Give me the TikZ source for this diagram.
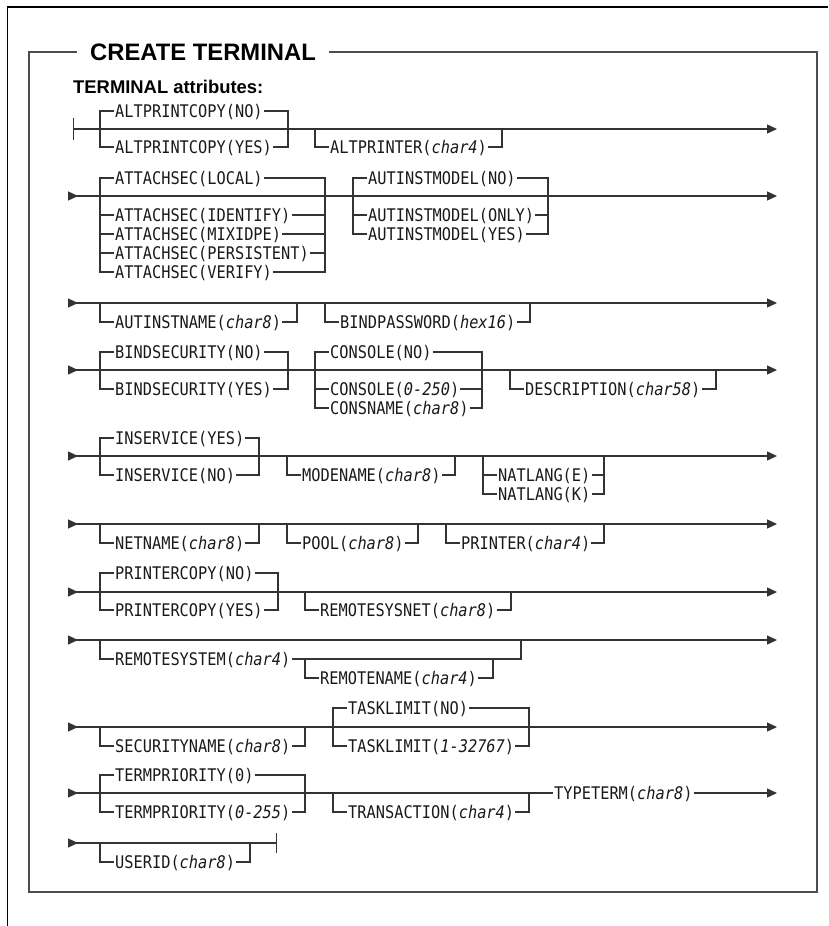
\documentclass[tikz,border=0pt]{standalone}
\usepackage{fontspec}
\setmainfont{Liberation Sans}
\newfontfamily\mono{DejaVu Sans Mono}[ItalicFont={DejaVu Sans Mono Oblique}, FakeStretch=0.88]
\usetikzlibrary{arrows.meta}
\newcommand\via[3]{\draw[ln] (#1) |- (#2.west) (#2.east) -| (#3);}
\begin{document}
\begin{tikzpicture}[x=1pt,y=-1pt,
 ln/.style={line width=1.3pt, draw=black!80},
 lbl/.style={anchor=west, inner xsep=1pt, inner ysep=0pt, text height=12.5pt, text depth=0pt, font=\mono\fontsize{17.4}{18}\selectfont, text=black!90},
 endarr/.style={-{Triangle[length=10pt,width=9pt]}},
 cont/.style={{Triangle[reversed,length=10pt,width=9pt]}-{Triangle[length=10pt,width=9pt]}},
 boxframe/.style={line width=2.5pt, draw=black!70},
]
\useasboundingbox (0,0) rectangle (828,926);
% outer frame
\coordinate (o1) at (7.5,926); \coordinate (o2) at (7.5,7); \coordinate (o3) at (828,7);
\draw[line width=1.5pt] (o1) -- (o2) -- (o3);
% title box
\node[anchor=west, inner xsep=13pt, inner ysep=0pt, text height=17pt, text depth=0pt, font=\bfseries\fontsize{23.8}{24}\selectfont] (title) at (77,52) {CREATE TERMINAL};
\coordinate (b1) at (29,52); \coordinate (b2) at (29,892); \coordinate (b3) at (817,892); \coordinate (b4) at (817,52);
\draw[boxframe] (title.west) -- (b1) -- (b2) -- (b3) -- (b4) -- (title.east);
\node[anchor=west, inner sep=0pt, text height=13.2pt, text depth=0pt, font=\bfseries\fontsize{18.4}{19}\selectfont] (sub) at (73,87) {TERMINAL attributes:};

% ---------- Row 1 (129)
\coordinate (r1s) at (73,129); \coordinate (r1e) at (777,129);
\draw[ln, {Bar[width=22pt]}-{Triangle[length=10pt,width=9pt]}] (r1s) -- (r1e);
\coordinate (r1a) at (100,129); \coordinate (r1b) at (288,129);
\node[lbl] (apcno) at (114,111) {ALTPRINTCOPY(NO)};
\node[lbl] (apcyes) at (114,147) {ALTPRINTCOPY(YES)};
\via{r1a}{apcno}{r1b} \via{r1a}{apcyes}{r1b}
\coordinate (r1c) at (315,129); \coordinate (r1d) at (502,129);
\node[lbl] (altpr) at (329,147) {ALTPRINTER(\textit{char4})};
\via{r1c}{altpr}{r1d}

% ---------- Row 2 (196)
\coordinate (r2s) at (68,196); \coordinate (r2e) at (777,196);
\draw[ln, cont] (r2s) -- (r2e);
\coordinate (r2a) at (100,196); \coordinate (r2b) at (325,196);
\node[lbl] (asloc) at (114,178) {ATTACHSEC(LOCAL)};
\node[lbl] (asid) at (114,215) {ATTACHSEC(IDENTIFY)};
\node[lbl] (asmix) at (114,234) {ATTACHSEC(MIXIDPE)};
\node[lbl] (asper) at (114,253) {ATTACHSEC(PERSISTENT)};
\node[lbl] (asver) at (114,272) {ATTACHSEC(VERIFY)};
\via{r2a}{asloc}{r2b} \via{r2a}{asid}{r2b} \via{r2a}{asmix}{r2b} \via{r2a}{asper}{r2b} \via{r2a}{asver}{r2b}
\coordinate (r2c) at (353,196); \coordinate (r2d) at (548,196);
\node[lbl] (amno) at (367,178) {AUTINSTMODEL(NO)};
\node[lbl] (amonly) at (367,215) {AUTINSTMODEL(ONLY)};
\node[lbl] (amyes) at (367,234) {AUTINSTMODEL(YES)};
\via{r2c}{amno}{r2d} \via{r2c}{amonly}{r2d} \via{r2c}{amyes}{r2d}

% ---------- Row 3 (303)
\coordinate (r3s) at (68,303); \coordinate (r3e) at (777,303);
\draw[ln, cont] (r3s) -- (r3e);
\coordinate (r3a) at (100,303); \coordinate (r3b) at (297,303);
\node[lbl] (ainame) at (114,322) {AUTINSTNAME(\textit{char8})};
\via{r3a}{ainame}{r3b}
\coordinate (r3c) at (325,303); \coordinate (r3d) at (530,303);
\node[lbl] (bindpw) at (339,322) {BINDPASSWORD(\textit{hex16})};
\via{r3c}{bindpw}{r3d}

% ---------- Row 4 (370)
\coordinate (r4s) at (68,370); \coordinate (r4e) at (777,370);
\draw[ln, cont] (r4s) -- (r4e);
\coordinate (r4a) at (100,370); \coordinate (r4b) at (288,370);
\node[lbl] (bsno) at (114,352) {BINDSECURITY(NO)};
\node[lbl] (bsyes) at (114,389) {BINDSECURITY(YES)};
\via{r4a}{bsno}{r4b} \via{r4a}{bsyes}{r4b}
\coordinate (r4c) at (315,370); \coordinate (r4d) at (482,370);
\node[lbl] (conno) at (329,352) {CONSOLE(NO)};
\node[lbl] (connum) at (329,389) {CONSOLE(\textit{0-250})};
\node[lbl] (consn) at (329,408) {CONSNAME(\textit{char8})};
\via{r4c}{conno}{r4d} \via{r4c}{connum}{r4d} \via{r4c}{consn}{r4d}
\coordinate (r4e1) at (510,370); \coordinate (r4f) at (716,370);
\node[lbl] (descr) at (524,389) {DESCRIPTION(\textit{char58})};
\via{r4e1}{descr}{r4f}

% ---------- Row 5 (456)
\coordinate (r5s) at (68,456); \coordinate (r5e) at (777,456);
\draw[ln, cont] (r5s) -- (r5e);
\coordinate (r5a) at (100,456); \coordinate (r5b) at (259,456);
\node[lbl] (insyes) at (114,438) {INSERVICE(YES)};
\node[lbl] (insno) at (114,475) {INSERVICE(NO)};
\via{r5a}{insyes}{r5b} \via{r5a}{insno}{r5b}
\coordinate (r5c) at (287,456); \coordinate (r5d) at (455,456);
\node[lbl] (modename) at (301,475) {MODENAME(\textit{char8})};
\via{r5c}{modename}{r5d}
\coordinate (r5e1) at (483,456); \coordinate (r5f) at (604,456);
\node[lbl] (natE) at (497,475) {NATLANG(E)};
\node[lbl] (natK) at (497,494) {NATLANG(K)};
\via{r5e1}{natE}{r5f} \via{r5e1}{natK}{r5f}

% ---------- Row 6 (524)
\coordinate (r6s) at (68,524); \coordinate (r6e) at (777,524);
\draw[ln, cont] (r6s) -- (r6e);
\coordinate (r6a) at (100,524); \coordinate (r6b) at (259,524);
\node[lbl] (netname) at (114,543) {NETNAME(\textit{char8})};
\via{r6a}{netname}{r6b}
\coordinate (r6c) at (287,524); \coordinate (r6d) at (418,524);
\node[lbl] (pool) at (301,543) {POOL(\textit{char8})};
\via{r6c}{pool}{r6d}
\coordinate (r6e1) at (446,524); \coordinate (r6f) at (604,524);
\node[lbl] (printer) at (460,543) {PRINTER(\textit{char4})};
\via{r6e1}{printer}{r6f}

% ---------- Row 7 (592)
\coordinate (r7s) at (68,592); \coordinate (r7e) at (777,592);
\draw[ln, cont] (r7s) -- (r7e);
\coordinate (r7a) at (100,592); \coordinate (r7b) at (278,592);
\node[lbl] (pcno) at (114,573) {PRINTERCOPY(NO)};
\node[lbl] (pcyes) at (114,610) {PRINTERCOPY(YES)};
\via{r7a}{pcno}{r7b} \via{r7a}{pcyes}{r7b}
\coordinate (r7c) at (305,592); \coordinate (r7d) at (511,592);
\node[lbl] (rsysnet) at (319,610) {REMOTESYSNET(\textit{char8})};
\via{r7c}{rsysnet}{r7d}

% ---------- Row 8 (640)
\coordinate (r8s) at (68,640); \coordinate (r8e) at (777,640);
\draw[ln, cont] (r8s) -- (r8e);
\coordinate (r8a) at (100,640); \coordinate (r8b) at (521,640);
\node[lbl] (rsystem) at (114,659) {REMOTESYSTEM(\textit{char4})};
\via{r8a}{rsystem}{r8b}
\coordinate (r8c) at (305,659); \coordinate (r8d) at (493,659);
\node[lbl] (rname) at (319,678) {REMOTENAME(\textit{char4})};
\via{r8c}{rname}{r8d}

% ---------- Row 9 (727)
\coordinate (r9s) at (68,727); \coordinate (r9e) at (777,727);
\draw[ln, cont] (r9s) -- (r9e);
\coordinate (r9a) at (100,727); \coordinate (r9b) at (305,727);
\node[lbl] (secname) at (114,746) {SECURITYNAME(\textit{char8})};
\via{r9a}{secname}{r9b}
\coordinate (r9c) at (333,727); \coordinate (r9d) at (529,727);
\node[lbl] (tlno) at (347,708) {TASKLIMIT(NO)};
\node[lbl] (tlnum) at (347,746) {TASKLIMIT(\textit{1-32767})};
\via{r9c}{tlno}{r9d} \via{r9c}{tlnum}{r9d}

% ---------- Row 10 (793)
\coordinate (r10s) at (68,793); \coordinate (r10e) at (777,793);
\node[lbl] (typeterm) at (553,793) {TYPETERM(\textit{char8})};
\draw[ln, {Triangle[reversed,length=10pt,width=9pt]}-] (r10s) -- (typeterm.west);
\draw[ln, endarr] (typeterm.east) -- (r10e);
\coordinate (r10a) at (100,793); \coordinate (r10b) at (305,793);
\node[lbl] (tp0) at (114,775) {TERMPRIORITY(0)};
\node[lbl] (tpnum) at (114,812) {TERMPRIORITY(\textit{0-255})};
\via{r10a}{tp0}{r10b} \via{r10a}{tpnum}{r10b}
\coordinate (r10c) at (333,793); \coordinate (r10d) at (529,793);
\node[lbl] (trans) at (347,812) {TRANSACTION(\textit{char4})};
\via{r10c}{trans}{r10d}

% ---------- Row 11 (843)
\coordinate (r11s) at (68,843); \coordinate (r11e) at (277,843);
\draw[ln, {Triangle[reversed,length=10pt,width=9pt]}-{Bar[width=20pt]}] (r11s) -- (r11e);
\coordinate (r11a) at (100,843); \coordinate (r11b) at (250,843);
\node[lbl] (userid) at (114,862) {USERID(\textit{char8})};
\via{r11a}{userid}{r11b}
\end{tikzpicture}
\end{document}
